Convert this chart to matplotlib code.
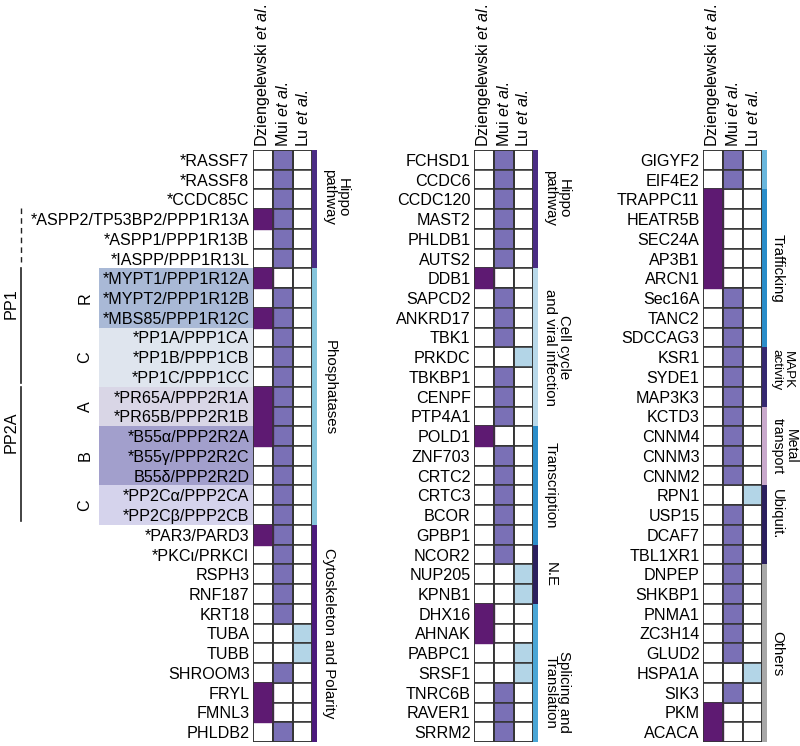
import matplotlib
matplotlib.use('Agg')
import matplotlib.pyplot as plt
from matplotlib.patches import Rectangle

plt.rcParams['font.family'] = ['Liberation Sans', 'DejaVu Sans']
plt.rcParams['mathtext.fontset'] = 'custom'
plt.rcParams['mathtext.rm'] = 'Liberation Sans'
plt.rcParams['mathtext.it'] = 'Liberation Sans:italic'

# ---------------- data ----------------
studies = [r'Dziengelewski $\mathit{et\ al.}$', r'Mui $\mathit{et\ al.}$', r'Lu $\mathit{et\ al.}$']

genes_left = ['*RASSF7', '*RASSF8', '*CCDC85C', '*ASPP2/TP53BP2/PPP1R13A', '*ASPP1/PPP1R13B',
              '*IASPP/PPP1R13L', '*MYPT1/PPP1R12A', '*MYPT2/PPP1R12B', '*MBS85/PPP1R12C',
              '*PP1A/PPP1CA', '*PP1B/PPP1CB', '*PP1C/PPP1CC', '*PR65A/PPP2R1A', '*PR65B/PPP2R1B',
              '*B55α/PPP2R2A', '*B55γ/PPP2R2C', 'B55δ/PPP2R2D', '*PP2Cα/PPP2CA', '*PP2Cβ/PPP2CB',
              '*PAR3/PARD3', '*PKCι/PRKCI', 'RSPH3', 'RNF187', 'KRT18', 'TUBA', 'TUBB',
              'SHROOM3', 'FRYL', 'FMNL3', 'PHLDB2']
dz_left  = [0,0,0,1,0,0,1,0,1,0,0,0,1,1,1,0,0,0,0,1,0,0,0,0,0,0,0,1,1,0]
mui_left = [1,1,1,1,1,1,0,1,1,1,1,1,1,1,1,1,1,1,1,1,1,1,1,1,0,0,1,0,0,1]
lu_left  = [0,0,0,0,0,0,0,0,0,0,0,0,0,0,0,0,0,0,0,0,0,0,0,0,1,1,0,0,0,0]

genes_mid = ['FCHSD1', 'CCDC6', 'CCDC120', 'MAST2', 'PHLDB1', 'AUTS2', 'DDB1', 'SAPCD2',
             'ANKRD17', 'TBK1', 'PRKDC', 'TBKBP1', 'CENPF', 'PTP4A1', 'POLD1', 'ZNF703',
             'CRTC2', 'CRTC3', 'BCOR', 'GPBP1', 'NCOR2', 'NUP205', 'KPNB1', 'DHX16', 'AHNAK',
             'PABPC1', 'SRSF1', 'TNRC6B', 'RAVER1', 'SRRM2']
dz_mid  = [0,0,0,0,0,0,1,0,0,0,0,0,0,0,1,0,0,0,0,0,0,0,0,1,1,0,0,0,0,0]
mui_mid = [1,1,1,1,1,1,0,1,1,1,0,1,1,1,0,1,1,1,1,1,1,0,0,0,0,0,0,1,1,1]
lu_mid  = [0,0,0,0,0,0,0,0,0,0,1,0,0,0,0,0,0,0,0,0,0,1,1,0,0,1,1,0,0,0]

genes_right = ['GIGYF2', 'EIF4E2', 'TRAPPC11', 'HEATR5B', 'SEC24A', 'AP3B1', 'ARCN1', 'Sec16A',
               'TANC2', 'SDCCAG3', 'KSR1', 'SYDE1', 'MAP3K3', 'KCTD3', 'CNNM4', 'CNNM3', 'CNNM2',
               'RPN1', 'USP15', 'DCAF7', 'TBL1XR1', 'DNPEP', 'SHKBP1', 'PNMA1', 'ZC3H14', 'GLUD2',
               'HSPA1A', 'SIK3', 'PKM', 'ACACA']
dz_right  = [0,0,1,1,1,1,1,0,0,0,0,0,0,0,0,0,0,0,0,0,0,0,0,0,0,0,0,0,1,1]
mui_right = [1,1,0,0,0,0,0,1,1,1,1,1,1,1,1,1,1,0,1,1,1,1,1,1,1,1,0,1,0,0]
lu_right  = [0,0,0,0,0,0,0,0,0,0,0,0,0,0,0,0,0,1,0,0,0,0,0,0,0,0,1,0,0,0]

cat_names_left = ['Hippo\npathway', 'Phosphatases', 'Cytoskeleton and Polarity']
cat_sizes_left = [6, 13, 11]
cat_names_mid = ['Hippo\npathway', 'Cell cycle\nand viral infection', 'Transcription', 'N.E',
                 'Splicing and\nTranslation']
cat_sizes_mid = [6, 8, 6, 3, 7]
cat_names_right = ['', 'Trafficking', 'MAPK\nactivity', 'Metal\ntransport', 'Ubiquit.', 'Others']
cat_sizes_right = [2, 8, 3, 4, 4, 9]

sub_names = ['R', 'C', 'A', 'B', 'C']
sub_sizes = [3, 3, 2, 3, 2]
sub_start = 6
family_names = ['PP1', 'PP2A']
family_sizes = [6, 7]

# ---------------- style / layout ----------------
col_colors = ['#5e1a72', '#7a70b6', '#b3d5e7']
cat_colors_left = ['#4a2c84', '#86c5dc', '#4b1a7c']
cat_colors_mid = ['#4a2c84', '#b9d9ea', '#2b8dc9', '#2b1f5e', '#4aa6d6']
cat_colors_right = ['#6ab7dd', '#2b8dc9', '#352870', '#c9a9cc', '#2b1f5e', '#a8a8a8']
shift_left = [-0.6, -0.45, 0.0]
shift_mid = [-0.55, 0.0, 0.0, 0.0, 0.95]
shift_right = [0.0, 0.0, -0.35, 0.0, -0.55, 0.0]
fs_left = [10.8, 10.8, 10.8]
fs_mid = [10.8, 10.8, 10.8, 10.8, 10.8]
fs_right = [10.8, 10.8, 9.6, 10.2, 10.6, 10.8]
lab_off = [3.5, 3.5, 3.4]
sub_colors = ['#a9b9d6', '#dfe5ee', '#d9d6e6', '#a29fcc', '#d5d3ec']
edge = '#333333'

W, H = 800, 746
CW = 19.8            # column width (px)
TOP, BOT = 150, 742  # grid top / bottom (px)
FS = 11.6

fig = plt.figure(figsize=(W / 100, H / 100), dpi=100)


def panel(x0, genes, dz, mui, lu, cnames, csizes, ccolors, shifts, cfs, loff):
    n = len(genes)
    ax = fig.add_axes([x0 / W, (H - BOT) / H, 3.25 * CW / W, (BOT - TOP) / H])
    ax.set_xlim(0, 3.25)
    ax.set_ylim(n, 0)
    for s in ax.spines.values():
        s.set_visible(False)
    ax.set_yticks([i + 0.5 for i in range(n)])
    ax.set_yticklabels(genes, fontsize=FS)
    ax.xaxis.tick_top()
    ax.set_xticks([0.5, 1.5, 2.5])
    ax.set_xticklabels(studies, rotation=90, fontsize=FS, va='bottom')
    ax.tick_params(length=0, pad=2.5)
    cols = [dz, mui, lu]
    for c in range(3):
        for r in range(n):
            ax.add_patch(Rectangle((c, r), 1, 1, facecolor='white', edgecolor=edge, lw=1.1, zorder=1))
    for c in (1, 2):
        for r in range(n):
            if cols[c][r]:
                ax.add_patch(Rectangle((c, r), 1, 1, facecolor=col_colors[c], edgecolor=edge,
                                       lw=1.1, zorder=2))
    for r in range(n):
        if dz[r]:
            ax.add_patch(Rectangle((0, r), 1, 1, facecolor=col_colors[0], edgecolor=col_colors[0],
                                   lw=1.0, zorder=3))
    for xv in (0, 1, 2, 3):
        ax.plot([xv, xv], [0, n], color=edge, lw=1.1, zorder=4, solid_capstyle='butt')
    ax.plot([0, 3], [0, 0], color=edge, lw=1.1, zorder=4)
    ax.plot([0, 3], [n, n], color=edge, lw=1.1, zorder=4)
    start = 0
    for name, size, colr, sh, f in zip(cnames, csizes, ccolors, shifts, cfs):
        ax.add_patch(Rectangle((3.0, start), 0.25, size, facecolor=colr, edgecolor='none', zorder=5))
        if name:
            ax.text(loff, start + size / 2 + sh, name, rotation=-90, ha='left', va='center',
                    multialignment='center', fontsize=f, linespacing=0.95, clip_on=False)
        start += size
    return ax


axL = panel(253, genes_left, dz_left, mui_left, lu_left, cat_names_left, cat_sizes_left,
            cat_colors_left, shift_left, fs_left, lab_off[0])
panel(474, genes_mid, dz_mid, mui_mid, lu_mid, cat_names_mid, cat_sizes_mid, cat_colors_mid,
      shift_mid, fs_mid, lab_off[1])
panel(703, genes_right, dz_right, mui_right, lu_right, cat_names_right, cat_sizes_right,
      cat_colors_right, shift_right, fs_right, lab_off[2])


def px(xp):
    return (xp - 253) / CW


start = sub_start
for name, size, colr in zip(sub_names, sub_sizes, sub_colors):
    axL.add_patch(Rectangle((px(99), start), px(253) - px(99), size, facecolor=colr,
                            edgecolor='none', zorder=0, clip_on=False))
    axL.text(px(85), start + size / 2, name, rotation=90, ha='center', va='center',
             fontsize=FS, clip_on=False)
    start += size

axL.plot([px(21), px(21)], [2.95, 5.7], color='#222222', lw=1.0, ls=(0, (4, 3)), clip_on=False)
start = sub_start
for name, size in zip(family_names, family_sizes):
    axL.plot([px(21), px(21)], [start + 0.0, start + size - 0.2], color='#222222', lw=1.2,
             clip_on=False)
    axL.text(px(11.5), start + size / 2 - 1.2, name, rotation=90, ha='center', va='center',
             fontsize=FS, clip_on=False)
    start += size

fig.savefig('out.png', dpi=100)
